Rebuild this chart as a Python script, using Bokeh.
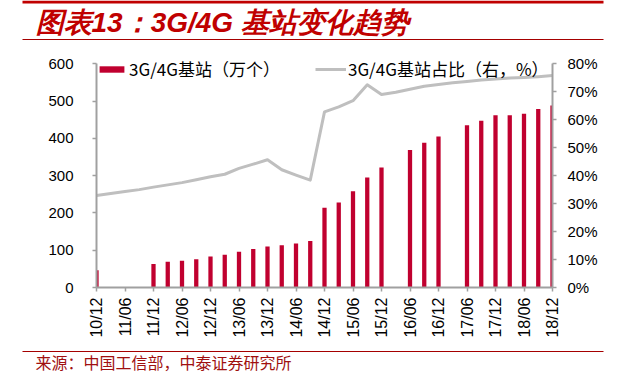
from math import pi
import numpy as np
from bokeh.plotting import figure
from bokeh.layouts import column, row
from bokeh.models import (Range1d, LinearAxis, FixedTicker, PrintfTickFormatter,
                          Legend, LegendItem, Label, ColumnDataSource)
from bokeh.embed import file_html
from bokeh.resources import INLINE

# ---------------- data ----------------
quarters = ["10/12", "11/03", "11/06", "11/09", "11/12", "12/03", "12/06", "12/09",
            "12/12", "13/03", "13/06", "13/09", "13/12", "14/03", "14/06", "14/09",
            "14/12", "15/03", "15/06", "15/09", "15/12", "16/03", "16/06", "16/09",
            "16/12", "17/03", "17/06", "17/09", "17/12", "18/03", "18/06", "18/09",
            "18/12"]
# 3G/4G base stations (10k units); None = no data
stations = [46, None, None, None, 63, 69, 72, 76,
            83, 88, 96, 103, 110, 113, 118, 125,
            214, 228, 258, 295, 322, None, 369, 388,
            405, None, 435, 447, 462, 462, 466, 479,
            488]
# share of 3G/4G base stations (%), right axis
share = [32.9, 33.6, 34.3, 35.0, 35.9, 36.7, 37.5, 38.5,
         39.6, 40.5, 42.6, 44.1, 45.7, 42.1, 40.2, 38.4,
         62.8, 64.6, 66.8, 72.5, 69.0, 69.8, 70.9, 72.0,
         72.6, 73.2, 73.7, 74.2, 74.6, 74.9, 75.1, 75.4,
         75.8]
left_ticks = [0, 100, 200, 300, 400, 500, 600]
right_ticks = [0, 10, 20, 30, 40, 50, 60, 70, 80]
label_quarters = [q for q in quarters if q.endswith("/06") or q.endswith("/12")]

title_text = "图表13：3G/4G 基站变化趋势"
source_text = "来源：中国工信部，中泰证券研究所"
bar_name = "3G/4G基站（万个）"
line_name = "3G/4G基站占比（右，%）"

# ---------------- layout constants ----------------
W = 613
H_HEAD = 42
H_MAIN = 302
H_FOOT = 29
ML, MR = 96, 61
FRAME_H = 245          # frame from top of main figure to x axis
AXIS_TOP = 21.3        # where 600 / 80% sits, from top of frame
MB = H_MAIN - FRAME_H

BAR_C = "#C0002F"
LINE_C = "#BFBFBF"
AX_C = "#A0A0A0"
RED = "#C00000"
DARK_RED = "#A50000"


def blank(h):
    f = figure(width=W, height=h, output_backend="svg", toolbar_location=None,
               x_range=Range1d(0, W), y_range=Range1d(h, 0),
               x_axis_type=None, y_axis_type=None,
               min_border_left=0, min_border_right=0, min_border_top=0,
               min_border_bottom=0)
    f.outline_line_color = None
    f.xgrid.visible = False
    f.ygrid.visible = False
    return f


# ---------------- header ----------------
head = blank(H_HEAD)
head.quad(left=[22], right=[603], top=[0], bottom=[3], fill_color=RED, line_color=None)
head.quad(left=[22], right=[603], top=[38.5], bottom=[39.5], fill_color=DARK_RED,
          line_color=None)
head.add_layout(Label(x=35, y=22, text=title_text, text_font="Liberation Sans",
                      text_font_style="bold italic", text_font_size="28px",
                      text_color=RED, text_baseline="middle"))

# ---------------- main chart ----------------
idx = list(range(len(quarters)))
src = ColumnDataSource(dict(
    x=idx,
    q=quarters,
    st=np.array([np.nan if v is None else v for v in stations], dtype=float),
    sh=share,
))

scale = FRAME_H / (FRAME_H - AXIS_TOP)
p = figure(width=W, height=H_MAIN, output_backend="svg", toolbar_location=None,
           x_range=Range1d(0, len(quarters) - 1),
           y_range=Range1d(left_ticks[0], left_ticks[-1] * scale),
           min_border_left=ML, min_border_right=MR,
           min_border_top=0, min_border_bottom=MB,
           background_fill_color="white", border_fill_color="white")
p.outline_line_color = None
p.xgrid.visible = False
p.ygrid.visible = False
p.extra_y_ranges = {"pct": Range1d(right_ticks[0], right_ticks[-1] * scale)}

bars = p.vbar(x="x", top="st", width=0.3, source=src, fill_color=BAR_C,
              line_color=None)
ln = p.line(x="x", y="sh", source=src, y_range_name="pct", line_color=LINE_C,
            line_width=3, line_join="round")

tick_idx = [quarters.index(q) for q in label_quarters]

xa = p.xaxis[0]
xa.ticker = FixedTicker(ticks=tick_idx)
xa.major_label_overrides = {i: quarters[i] for i in tick_idx}
xa.major_label_orientation = pi / 2

ya = p.yaxis[0]
ya.ticker = FixedTicker(ticks=left_ticks)
ya.bounds = (left_ticks[0], left_ticks[-1])

ra = LinearAxis(y_range_name="pct", ticker=FixedTicker(ticks=right_ticks),
                formatter=PrintfTickFormatter(format="%d%%"),
                bounds=(right_ticks[0], right_ticks[-1]))
p.add_layout(ra, "right")

for ax in (xa, ya, ra):
    ax.axis_line_color = AX_C
    ax.axis_line_width = 2
    ax.major_tick_line_color = AX_C
    ax.major_tick_line_width = 1.5
    ax.major_tick_in = 0
    ax.major_tick_out = 4
    ax.minor_tick_line_color = None
    ax.major_label_text_font = "Liberation Sans"
    ax.major_label_text_font_size = "15px"
    ax.major_label_text_color = "black"
xa.major_label_text_font_size = "16px"
xa.major_label_standoff = 6
ya.major_label_standoff = 19
ra.major_label_standoff = 11

legend = Legend(items=[LegendItem(label=bar_name, renderers=[bars]),
                       LegendItem(label=line_name, renderers=[ln])],
                location=(0, 206), orientation="horizontal",
                glyph_width=31, glyph_height=8, label_standoff=2, spacing=35,
                padding=0, margin=0, border_line_color=None,
                background_fill_alpha=0,
                label_text_font="Noto Sans CJK SC", label_text_font_size="17px",
                label_text_color="black", label_height=20)
p.add_layout(legend)

# ---------------- footer ----------------
foot = blank(H_FOOT)
foot.quad(left=[22], right=[603], top=[6.5], bottom=[7.5], fill_color=DARK_RED,
          line_color=None)
foot.add_layout(Label(x=35, y=17.4, text=source_text, text_font="Noto Sans CJK SC",
                      text_font_size="16px", text_color="#A01010",
                      text_baseline="middle"))

layout = column(row(head), p, row(foot), spacing=0)
open("out.html", "w").write(file_html(layout, INLINE))
